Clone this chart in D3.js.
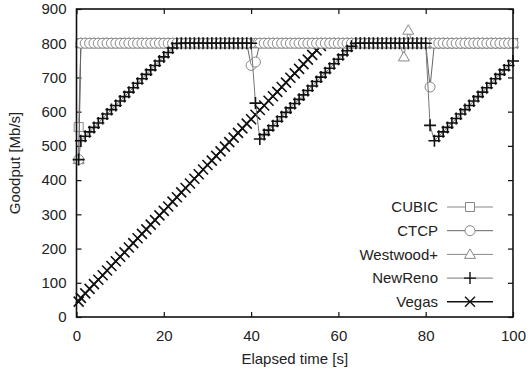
<!DOCTYPE html>
<html>
<head>
<meta charset="utf-8">
<script src="https://cdn.jsdelivr.net/npm/d3@7"></script>
<style>
  body { margin: 0; background: #fff; }
  svg { font-family: "Liberation Sans", Arial, sans-serif; }
</style>
</head>
<body>
<div id="app"></div>
<script>
const width = 531,
    height = 376;

// sample times: first sample at 0.5 s, then every second
const seconds = [0.5].concat(d3.range(1, 101));

const xTicks = [0, 20, 40, 60, 80, 100];
const yTicks = [0, 100, 200, 300, 400, 500, 600, 700, 800, 900];

const cubic = [555,
  800,800,800,800,800,800,800,800,800,800,
  800,800,800,800,800,800,800,800,800,800,
  800,800,800,800,800,800,800,800,800,800,
  800,800,800,800,800,800,800,800,800,800,
  800,800,800,800,800,800,800,800,800,800,
  800,800,800,800,800,800,800,800,800,800,
  800,800,800,800,800,800,800,800,800,800,
  800,800,800,800,800,800,800,800,800,800,
  800,800,800,800,800,800,800,800,800,800,
  800,800,800,800,800,800,800,800,800,800];

const ctcp = [460,
  800,800,800,800,800,800,800,800,800,800,
  800,800,800,800,800,800,800,800,800,800,
  800,800,800,800,800,800,800,800,800,800,
  800,800,800,800,800,800,800,800,800,
  735,745,
  800,800,800,800,800,800,800,800,800,800,
  800,800,800,800,800,800,800,800,800,800,
  800,800,800,800,800,800,800,800,800,800,
  800,800,800,800,800,800,800,800,800,
  672,
  800,800,800,800,800,800,800,800,800,800,
  800,800,800,800,800,800,800,800,800];

const westwood = [460,
  800,800,800,800,800,800,800,800,800,800,
  800,800,800,800,800,800,800,800,800,800,
  800,800,800,800,800,800,800,800,800,800,
  800,800,800,800,800,800,800,800,800,800,
  800,800,800,800,800,800,800,800,800,800,
  800,800,800,800,800,800,800,800,800,800,
  800,800,800,800,800,800,800,800,800,800,
  800,800,800,800,
  760,838,
  800,800,800,800,800,800,800,800,800,800,
  800,800,800,800,800,800,800,800,800,800,
  800,800,800,800];

const newreno = [460,
  515,
  528,541,554,567,580,593,606,618,631,644,
  657,670,683,696,709,722,735,748,760,773,
  786,799,
  800,800,800,800,800,800,800,800,800,800,
  800,800,800,800,800,800,800,
  625,520,
  533,546,559,572,585,598,611,624,636,649,
  662,675,688,701,714,727,740,753,766,778,
  791,
  800,800,800,800,800,800,800,800,800,800,
  800,800,800,800,800,800,800,
  560,515,
  528,541,554,567,580,593,606,618,631,644,
  657,670,683,696,709,722,735,748];

const vegas = [45,
  56,69,82,96,109,122,136,149,163,176,
  189,203,216,230,243,256,270,283,297,310,
  323,337,350,364,377,390,404,417,431,444,
  457,471,484,498,511,524,538,551,565,578,
  591,605,618,632,645,658,672,685,699,712,
  725,739,752,766,779,792,
  800,800,800,800,800,800,800,800,800,800,
  800,800,800,800,800,800,800,800,800,800,
  800,800,800,800,800,800,800,800,800,800,
  800,800,800,800,800,800,800,800,800,800,
  800,800,800,800];

const seriesNames = ["CUBIC", "CTCP", "Westwood+", "NewReno", "Vegas"];

// marker shapes
const shapes = {
  square: "M-4.5,-4.5H4.5V4.5H-4.5Z",
  circle: "M-5,0A5,5 0 1,0 5,0A5,5 0 1,0 -5,0Z",
  triangle: "M0,-5.5L5.5,4L-5.5,4Z",
  plus: "M-6,0H6M0,-6V6",
  cross: "M-5,-5L5,5M-5,5L5,-5"
};

const series = [
  {name: "Vegas", values: vegas, shape: "cross", line: "#111", mark: "#111", fill: "none", lw: 1.4},
  {name: "CUBIC", values: cubic, shape: "square", line: "#888", mark: "#888", fill: "#fff", lw: 1},
  {name: "Westwood+", values: westwood, shape: "triangle", line: "#888", mark: "#888", fill: "#fff", lw: 1},
  {name: "CTCP", values: ctcp, shape: "circle", line: "#666", mark: "#888", fill: "#fff", lw: 1},
  {name: "NewReno", values: newreno, shape: "plus", line: "#777", mark: "#111", fill: "none", lw: 1}
];

const margin = {left: 76.5, right: 18, top: 9, bottom: 59};

const x = d3.scaleLinear().domain([0, 100]).range([margin.left, width - margin.right]);
const y = d3.scaleLinear().domain([0, 900]).range([height - margin.bottom, margin.top]);

const svg = d3.select("#app")
    .append("svg")
    .attr("width", width)
    .attr("height", height);

const plotH = y(0) - y(900);
const plotW = x(100) - x(0);

//axes with inward ticks
svg.append("g")
    .attr("transform", "translate(0," + y(0) + ")")
    .call(d3.axisBottom(x).tickValues(xTicks).tickSize(-5).tickPadding(13));

svg.append("g")
    .attr("transform", "translate(0," + y(900) + ")")
    .call(d3.axisTop(x).tickValues(xTicks).tickSize(-5).tickFormat(""));

svg.append("g")
    .attr("transform", "translate(" + x(0) + ",0)")
    .call(d3.axisLeft(y).tickValues(yTicks).tickSize(-5).tickPadding(10));

svg.append("g")
    .attr("transform", "translate(" + x(100) + ",0)")
    .call(d3.axisRight(y).tickValues(yTicks).tickSize(-5).tickFormat(""));

svg.selectAll(".domain").remove();
svg.selectAll(".tick line").attr("stroke", "#111").attr("stroke-width", 1.2);
svg.selectAll(".tick text").attr("font-size", 15).attr("fill", "#222");

const line = d3.line()
    .x((d, i) => x(seconds[i]))
    .y(d => y(d));

const plot = svg.append("g");

series.forEach(s => {
  plot.append("path")
      .datum(s.values)
      .attr("fill", "none")
      .attr("stroke", s.line)
      .attr("stroke-width", s.lw)
      .attr("d", line);
  plot.append("g").selectAll("path")
      .data(s.values).enter()
      .append("path")
      .attr("transform", (d, i) => "translate(" + x(seconds[i]) + "," + y(d) + ")")
      .attr("d", shapes[s.shape])
      .attr("fill", s.fill)
      .attr("stroke", s.mark)
      .attr("stroke-width", s.shape === "plus" || s.shape === "cross" ? 1.6 : 1);
});

//frame
svg.append("rect")
    .attr("x", x(0))
    .attr("y", y(900))
    .attr("width", plotW)
    .attr("height", plotH)
    .attr("fill", "none")
    .attr("stroke", "#111")
    .attr("stroke-width", 1.6);

//legend
const legend = svg.append("g");
seriesNames.forEach((name, i) => {
  const s = series.find(d => d.name === name);
  const ly = 207 + i * 23.7;
  legend.append("text")
      .attr("x", 438)
      .attr("y", ly)
      .attr("dy", "0.35em")
      .attr("text-anchor", "end")
      .attr("font-size", 15)
      .attr("fill", "#222")
      .text(name);
  legend.append("line")
      .attr("x1", 447).attr("x2", 493)
      .attr("y1", ly).attr("y2", ly)
      .attr("stroke", s.line)
      .attr("stroke-width", s.lw);
  legend.append("path")
      .attr("transform", "translate(470," + ly + ")")
      .attr("d", shapes[s.shape])
      .attr("fill", s.fill)
      .attr("stroke", s.mark)
      .attr("stroke-width", s.shape === "plus" || s.shape === "cross" ? 1.4 : 1);
});

//axis titles
svg.append("text")
    .attr("x", (x(0) + x(100)) / 2)
    .attr("y", 364)
    .attr("text-anchor", "middle")
    .attr("font-size", 15)
    .attr("fill", "#222")
    .text("Elapsed time [s]");

svg.append("text")
    .attr("transform", "translate(20," + ((y(0) + y(900)) / 2) + ") rotate(-90)")
    .attr("text-anchor", "middle")
    .attr("font-size", 15)
    .attr("fill", "#222")
    .text("Goodput [Mb/s]");
</script>
</body>
</html>
